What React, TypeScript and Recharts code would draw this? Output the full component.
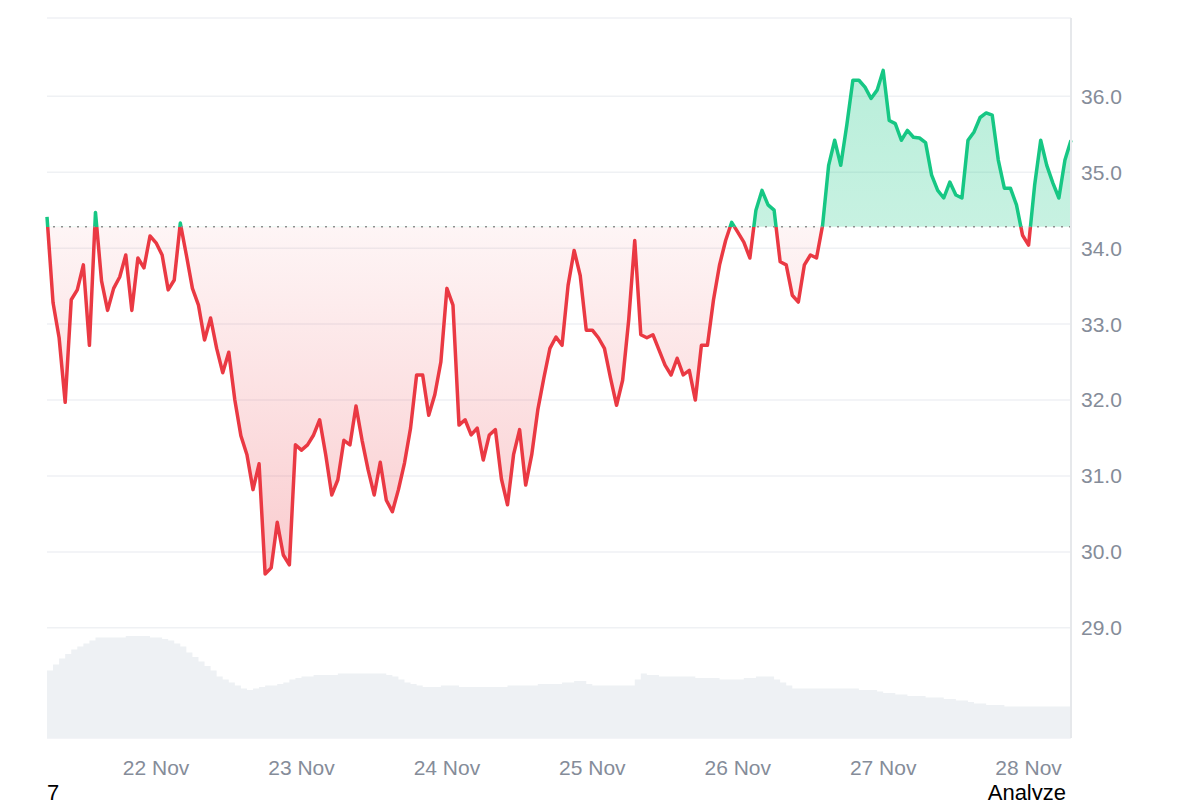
import {
  Area,
  AreaChart,
  CartesianGrid,
  ReferenceLine,
  XAxis,
  YAxis,
} from "recharts";

// hourly closes, starting 21 Nov 06:00
const prices = [
  34.41, 33.28, 32.82, 31.97, 33.32, 33.45, 33.78, 32.72, 34.47, 33.57,
  33.18, 33.47, 33.62, 33.91, 33.18, 33.87, 33.74, 34.16, 34.07, 33.91,
  33.45, 33.58, 34.33, 33.91, 33.47, 33.25, 32.79, 33.08, 32.68, 32.36,
  32.63, 32.0, 31.53, 31.28, 30.82, 31.16, 29.71, 29.79, 30.39, 29.96,
  29.83, 31.41, 31.34, 31.41, 31.54, 31.74, 31.28, 30.75, 30.95, 31.47,
  31.41, 31.92, 31.47, 31.08, 30.75, 31.18, 30.68, 30.53, 30.82, 31.17,
  31.63, 32.33, 32.33, 31.8, 32.07, 32.5, 33.47, 33.25, 31.67, 31.74,
  31.54, 31.63, 31.21, 31.54, 31.61, 30.96, 30.62, 31.28, 31.61, 30.88,
  31.28, 31.87, 32.29, 32.68, 32.83, 32.72, 33.51, 33.97, 33.64, 32.92,
  32.92, 32.82, 32.68, 32.29, 31.93, 32.26, 33.05, 34.1, 32.86, 32.82,
  32.86, 32.66, 32.46, 32.33, 32.55, 32.33, 32.39, 32.0, 32.72, 32.72,
  33.32, 33.78, 34.1, 34.34, 34.21, 34.08, 33.87, 34.5, 34.76, 34.57,
  34.5, 33.82, 33.78, 33.38, 33.29, 33.78, 33.91, 33.87, 34.3, 35.09,
  35.42, 35.09, 35.62, 36.21, 36.21, 36.12, 35.97, 36.08, 36.34, 35.68,
  35.64, 35.42, 35.55, 35.46, 35.45, 35.39, 34.96, 34.76, 34.66, 34.87,
  34.7, 34.66, 35.42, 35.53, 35.72, 35.78, 35.75, 35.16, 34.79, 34.79,
  34.57, 34.17, 34.04, 34.83, 35.42, 35.09, 34.86, 34.66, 35.16, 35.42,
];

// 24h volume, millions
const volumes = [
  45, 49, 53, 56, 59, 61, 63, 65, 67, 67, 67, 67, 67, 68, 68, 68, 68, 67, 67, 66,
  65, 63, 61, 57, 54, 51, 48, 45, 41, 39, 37, 35, 33, 32, 33, 34, 35, 35, 36, 37,
  39, 40, 41, 41, 42, 42, 42, 42, 43, 43, 43, 43, 43, 43, 43, 43, 42, 41, 39, 37,
  36, 35, 34, 34, 34, 35, 35, 35, 34, 34, 34, 34, 34, 34, 34, 34, 35, 35, 35, 35,
  35, 36, 36, 36, 36, 37, 37, 38, 38, 36, 35, 35, 35, 35, 35, 35, 35, 39, 43, 42,
  42, 41, 41, 41, 41, 41, 41, 40, 40, 40, 40, 39, 39, 39, 39, 40, 40, 41, 41, 41,
  39, 37, 35, 33, 33, 33, 33, 33, 33, 33, 33, 33, 33, 33, 32, 32, 32, 31, 30, 30,
  29, 29, 28, 28, 28, 27, 27, 27, 26, 26, 25, 25, 24, 23, 23, 22, 22, 22, 21, 21,
  21, 21, 21, 21, 21, 21, 21, 21, 21, 21,
];

const basePrice = 34.28;
const priceTicks = [29, 30, 31, 32, 33, 34, 35, 36];
const dayTicks = [18, 42, 66, 90, 114, 138, 162];
const dayLabels = ["22 Nov", "23 Nov", "24 Nov", "25 Nov", "26 Nov", "27 Nov", "28 Nov"];

const data = prices.map((p, i) => ({ h: i, price: p, vol: volumes[i] }));

const red = "#ea3943";
const green = "#16c784";
const font = "'Liberation Sans', Arial, sans-serif";
const tickStyle = { fill: "#858c99", fontSize: 21, fontFamily: font };
const borderColor = "#e6e8eb";

export default function App() {
  const max = Math.max(...prices);
  const min = Math.min(...prices);
  const off = (max - basePrice) / (max - min);

  return (
    <div style={{ fontFamily: font }}>
      <AreaChart
        width={1184}
        height={772}
        data={data}
        margin={{ top: 10, right: 0, left: 39, bottom: 12 }}
      >
        <defs>
          <linearGradient id="lineSplit" x1="0" y1="0" x2="0" y2="1">
            <stop offset={off} stopColor={green} />
            <stop offset={off} stopColor={red} />
          </linearGradient>
          <linearGradient id="fillSplit" x1="0" y1="0" x2="0" y2="1">
            <stop offset={0} stopColor={green} stopOpacity={0.3} />
            <stop offset={off} stopColor={green} stopOpacity={0.24} />
            <stop offset={off} stopColor={red} stopOpacity={0.05} />
            <stop offset={1} stopColor={red} stopOpacity={0.26} />
          </linearGradient>
        </defs>
        <CartesianGrid
          yAxisId="price"
          horizontal
          vertical={false}
          stroke="#eff1f4"
          strokeWidth={1.5}
        />
        <XAxis
          dataKey="h"
          type="number"
          domain={[0, 169]}
          ticks={dayTicks}
          tickFormatter={(v) => dayLabels[dayTicks.indexOf(v)] ?? ""}
          tick={tickStyle}
          axisLine={false}
          tickLine={false}
          tickMargin={16}
        />
        <XAxis
          xAxisId="top"
          orientation="top"
          dataKey="h"
          type="number"
          domain={[0, 169]}
          height={0}
          tick={false}
          tickLine={false}
          axisLine={{ stroke: borderColor, strokeWidth: 2 }}
        />
        <YAxis
          yAxisId="edge"
          orientation="left"
          width={0}
          tick={false}
          tickLine={false}
          axisLine={{ stroke: borderColor, strokeWidth: 2 }}
        />
        <YAxis
          yAxisId="price"
          orientation="right"
          width={121}
          domain={[27.55, 37.03]}
          ticks={priceTicks}
          tickFormatter={(v) => Number(v).toFixed(1)}
          tick={tickStyle}
          tickLine={false}
          tickMargin={4}
          axisLine={{ stroke: borderColor, strokeWidth: 2 }}
        />
        <YAxis yAxisId="vol" hide domain={[0, 480]} />
        <Area
          yAxisId="vol"
          dataKey="vol"
          type="stepAfter"
          stroke="none"
          fill="#eef1f4"
          fillOpacity={1}
          isAnimationActive={false}
        />
        <Area
          yAxisId="price"
          dataKey="price"
          type="linear"
          baseValue={basePrice}
          stroke="url(#lineSplit)"
          strokeWidth={3.5}
          strokeLinejoin="round"
          fill="url(#fillSplit)"
          fillOpacity={1}
          dot={false}
          activeDot={false}
          isAnimationActive={false}
        />
        <ReferenceLine
          yAxisId="price"
          y={basePrice}
          stroke="#8f8f8f"
          strokeWidth={1.5}
          strokeDasharray="2 6"
        />
      </AreaChart>
      <div
        style={{
          display: "flex",
          justifyContent: "space-between",
          marginLeft: 39,
          width: 1019,
          fontSize: 22,
          color: "#000",
        }}
      >
        <span>7</span>
        <span>Analyze</span>
      </div>
    </div>
  );
}
